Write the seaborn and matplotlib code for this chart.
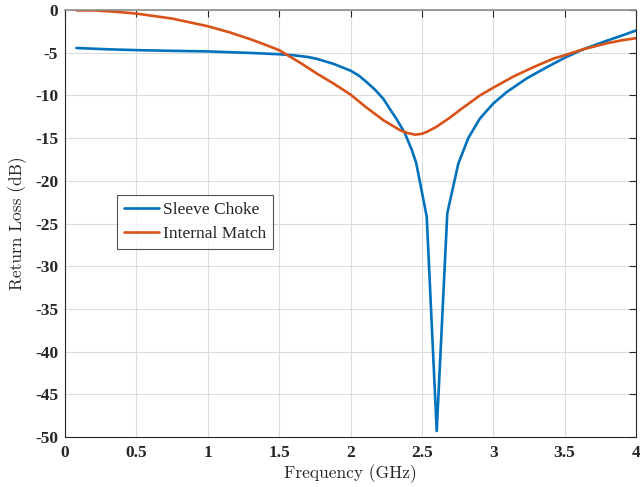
import matplotlib
matplotlib.use("Agg")
import matplotlib.pyplot as plt
import seaborn as sns
import pandas as pd

# Sleeve Choke (blue)
choke_freq = [0.08, 0.3, 0.5, 0.75, 1.0, 1.3, 1.5, 1.6, 1.7, 1.76, 1.88, 2.0, 2.06, 2.11,
              2.17, 2.23, 2.28, 2.32, 2.38, 2.43, 2.46, 2.534, 2.604, 2.678, 2.755, 2.825,
              2.907, 3.0, 3.095, 3.235, 3.375, 3.5, 3.63, 3.795, 3.9, 4.0]
choke_db = [-4.45, -4.6, -4.7, -4.78, -4.85, -5.03, -5.18, -5.3, -5.5, -5.7, -6.3, -7.1, -7.7,
            -8.4, -9.3, -10.4, -11.7, -12.7, -14.4, -16.4, -17.9, -24.2, -49.3, -23.8, -18.0,
            -15.0, -12.7, -10.95, -9.6, -8.0, -6.7, -5.6, -4.6, -3.6, -3.0, -2.4]

# Internal Match (orange)
match_freq = [0.08, 0.2, 0.35, 0.5, 0.75, 1.0, 1.15, 1.3, 1.4, 1.5, 1.55, 1.65, 1.76, 1.88, 2.0,
              2.11, 2.23, 2.3, 2.35, 2.4, 2.452, 2.5, 2.534, 2.6, 2.697, 2.767, 2.907, 3.0,
              3.14, 3.28, 3.42, 3.5, 3.63, 3.795, 3.9, 4.0]
match_db = [-0.05, -0.05, -0.2, -0.42, -1.0, -1.9, -2.6, -3.43, -4.05, -4.7, -5.2, -6.2, -7.4,
            -8.6, -9.9, -11.4, -12.9, -13.6, -14.1, -14.4, -14.6, -14.5, -14.27, -13.7, -12.6,
            -11.7, -10.0, -9.1, -7.8, -6.7, -5.7, -5.3, -4.6, -3.9, -3.55, -3.3]

series_names = ["Sleeve Choke", "Internal Match"]
x_ticks = [0, 0.5, 1, 1.5, 2, 2.5, 3, 3.5, 4]
x_tick_labels = ["0", "0.5", "1", "1.5", "2", "2.5", "3", "3.5", "4"]
y_ticks = [0, -5, -10, -15, -20, -25, -30, -35, -40, -45, -50]
y_tick_labels = [str(v) for v in y_ticks]

df = pd.concat([
    pd.DataFrame({"Frequency": choke_freq, "dB": choke_db, "Series": series_names[0]}),
    pd.DataFrame({"Frequency": match_freq, "dB": match_db, "Series": series_names[1]}),
])

sns.set_style("white")
plt.rcParams["font.family"] = ["Liberation Serif", "DejaVu Serif"]
plt.rcParams["axes.unicode_minus"] = False

fig = plt.figure(figsize=(6.4, 4.87), dpi=100)
ax = fig.add_axes([65 / 640, 50 / 487, 571 / 640, 427 / 487])

sns.lineplot(data=df, x="Frequency", y="dB", hue="Series", sort=False, estimator=None,
             palette=["#0072BD", "#D95319"], linewidth=1.9, ax=ax)

ax.set_xlim(0, 4)
ax.set_ylim(-50, 0)
ax.set_xticks(x_ticks)
ax.set_xticklabels(x_tick_labels, fontweight="bold", fontsize=12.5)
ax.set_yticks(y_ticks)
ax.set_yticklabels(y_tick_labels, fontweight="bold", fontsize=12.5)
ax.set_xlabel("Frequency (GHz)", fontsize=12.5, color="#262626", labelpad=2,
              family=["cmr10", "Liberation Serif"])
ax.set_ylabel("Return Loss (dB)", fontsize=12.5, color="#262626", labelpad=6,
              family=["cmr10", "Liberation Serif"])

ax.grid(True, color="#dcdcdc", linewidth=0.8)
ax.set_axisbelow(True)
ax.tick_params(direction="in", length=5, width=0.8, top=True, right=True,
               colors="#262626")
ax.tick_params(axis="x", pad=6)
ax.tick_params(axis="y", pad=5)
for s in ax.spines.values():
    s.set_visible(True)
    s.set_color("#262626")
    s.set_linewidth(0.8)
ax.spines["top"].set_color("#8c8c8c")
ax.spines["top"].set_linewidth(1.2)

leg = ax.legend(loc="upper left", bbox_to_anchor=(0.091, 0.567), fontsize=12.5,
                frameon=True, fancybox=False, handlelength=2.0, borderpad=0.4,
                labelspacing=0.45, handletextpad=0.25, borderaxespad=0)
leg.get_frame().set_edgecolor("#262626")
leg.get_frame().set_linewidth(0.8)
leg.set_title(None)

fig.savefig("out.png", dpi=100)
